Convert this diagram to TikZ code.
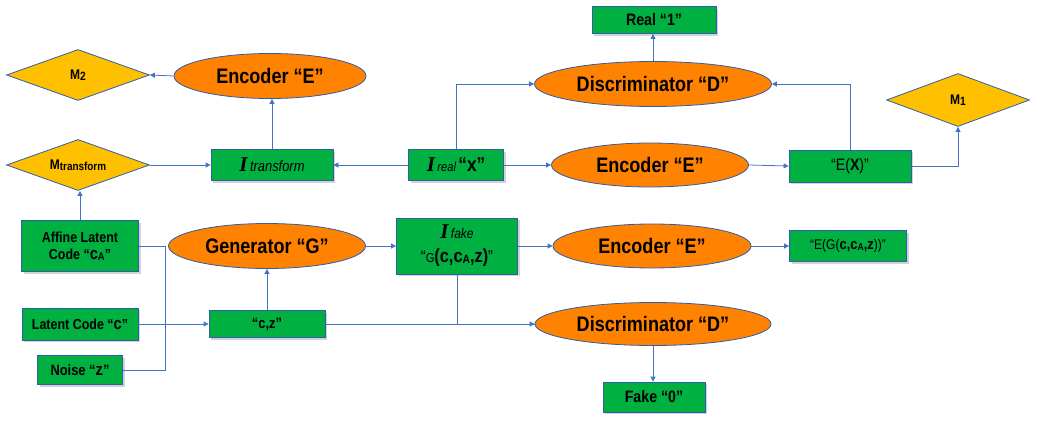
\documentclass[tikz,border=0pt]{standalone}
\usepackage{fontspec}
\setmainfont{Liberation Sans}[FakeStretch=0.86]
\newfontfamily\serifI{Liberation Serif}
\usetikzlibrary{shapes.geometric,arrows.meta,shadows}
\definecolor{gfill}{HTML}{00B040}
\definecolor{ofill}{HTML}{FF8200}
\definecolor{yfill}{HTML}{FFC000}
\definecolor{bord}{HTML}{2F5DA8}
\definecolor{lcol}{HTML}{4472C4}
\newcommand{\BI}{{\serifI\bfseries\itshape\fontsize{21}{21}\selectfont I}}
\newcommand{\fs}[1]{\fontsize{#1}{#1}\selectfont}
\tikzset{
  base/.style={draw=bord, line width=0.8pt, inner sep=0pt, align=center, font=\bfseries\fontsize{14.5}{17}\selectfont},
  box/.style={base, rectangle, fill=gfill, drop shadow={opacity=0.35, shadow xshift=2pt, shadow yshift=-2pt}},
  ell/.style={base, ellipse, fill=ofill, font=\bfseries\fontsize{21}{21}\selectfont},
  dia/.style={base, diamond, fill=yfill, shape aspect=2.8, font=\bfseries\fontsize{14}{14}\selectfont},
  arr/.style={draw=lcol, line width=0.8pt, -{Triangle[width=5pt,length=5pt]}},
  ln/.style={draw=lcol, line width=0.8pt}
}
\begin{document}
\begin{tikzpicture}[x=1pt,y=-1pt]
\useasboundingbox (0,0) rectangle (1039,423);
% top row
\node[dia, minimum width=143, minimum height=51] (m2) at (78,75) {M\raisebox{-1pt}{\fs{12}2}};
\node[ell, minimum width=192, minimum height=45] (encT) at (270,76) {Encoder “E”};
\node[box, minimum width=124, minimum height=27] (real) at (654,20) {\fs{16.5}Real “1”};
\node[ell, minimum width=237, minimum height=45] (discT) at (653,84) {Discriminator “D”};
\node[dia, minimum width=143, minimum height=53] (m1) at (958,100) {M\raisebox{-1pt}{\fs{12}1}};
% middle row
\node[dia, minimum width=143, minimum height=51] (mt) at (78,165) {M\raisebox{-1pt}{\fs{11.5}transform}};
\node[box, minimum width=122, minimum height=31] (it) at (272,165) {\BI\,{\mdseries\itshape\fs{15}transform}};
\node[box, minimum width=95, minimum height=31] (ir) at (456,165) {\BI\,{\mdseries\itshape\fs{13}real}\,{\fs{20}“x”}};
\node[ell, minimum width=197, minimum height=44] (encM) at (650,165) {Encoder “E”};
\node[box, minimum width=122, minimum height=32] (ex) at (850,166) {\fs{16.5}{\mdseries“E(}X{\mdseries)”}};
% lower rows
\node[box, minimum width=117, minimum height=51] (aff) at (80,246) {Affine Latent\\Code “{\fs{17}c}\raisebox{-1pt}{\fs{11}A}”};
\node[ell, minimum width=197, minimum height=45] (gen) at (267,246) {Generator “G”};
\node[box, minimum width=121, minimum height=56] (ifake) at (457,246) {\BI\,{\mdseries\itshape\fs{14}fake}\\[7pt]{\mdseries\fs{17}“}{\mdseries\fs{13}G}{\fs{19}(c,c}\raisebox{-1pt}{\fs{12}A}{\fs{19},z)}{\mdseries\fs{17}”}};
\node[ell, minimum width=198, minimum height=44] (encB) at (652,246) {Encoder “E”};
\node[box, minimum width=117, minimum height=31] (eg) at (848,246) {{\mdseries\fs{14}“E(G(}{\fs{15}c,c}\raisebox{-1pt}{\fs{10}A}{\fs{15},z}{\mdseries\fs{14}))”}};
\node[box, minimum width=116, minimum height=32] (lat) at (80,324) {Latent Code “{\fs{17}c}”};
\node[box, minimum width=116, minimum height=27] (cz) at (267,324) {\fs{15}“c,z”};
\node[ell, minimum width=236, minimum height=43] (discB) at (653,324) {Discriminator “D”};
\node[box, minimum width=85, minimum height=29] (noise) at (80,370) {\fs{15}Noise “{\fs{17}z}”};
\node[box, minimum width=102, minimum height=30] (fake) at (654,397) {\fs{16.5}Fake “0”};
\coordinate (jx) at (165,370);
% connectors
\draw[arr] (encT.west) -- (m2.east);
\draw[arr] (mt.east) -- (it.west);
\draw[arr] (it.north) -- (it.north |- encT.south);
\draw[arr] (ir.west) -- (it.east);
\draw[arr] (ir.north) |- (discT.west);
\draw[arr] (discT.north) -- (discT.north |- real.south);
\draw[arr] (ir.east) -- (encM.west);
\draw[arr] (encM.east) -- (ex.west);
\draw[arr] (ex.north) |- (discT.east);
\draw[arr] (ex.east) -| (m1.south);
\draw[arr] (aff.north) -- (aff.north |- mt.south);
\draw[ln] (aff.east) -| (jx) -- (noise.east);
\draw[arr] (lat.east) -- (cz.west);
\draw[arr] (cz.north) -- (cz.north |- gen.south);
\draw[arr] (gen.east) -- (ifake.west);
\draw[arr] (ifake.east) -- (encB.west);
\draw[arr] (encB.east) -- (eg.west);
\draw[arr] (cz.east) -- (discB.west);
\draw[ln] (ifake.south) |- (discB.west);
\draw[arr] (discB.south) -- (discB.south |- fake.north);
\end{tikzpicture}
\end{document}
